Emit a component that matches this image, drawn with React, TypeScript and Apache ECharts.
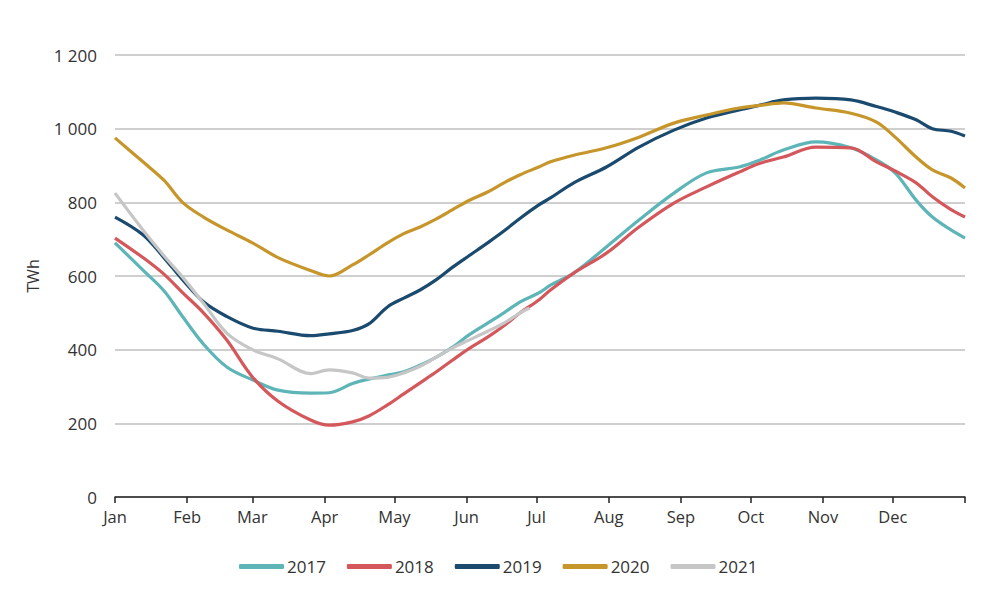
import React, { useEffect, useRef } from "react";
import * as echarts from "echarts";

const MONTHS = ["Jan", "Feb", "Mar", "Apr", "May", "Jun", "Jul", "Aug", "Sep", "Oct", "Nov", "Dec"];
const MONTH_START_DAYS = [0, 31, 59, 90, 120, 151, 181, 212, 243, 273, 304, 334];
const YEAR_END_DAY = 365;

const DAYS = [0, 12, 21, 29, 38, 48, 59, 70, 84, 92, 102, 109, 117, 124, 131, 138, 145, 152, 160, 167, 174, 182, 187, 197, 211, 225, 240, 254, 268, 277, 287, 301, 316, 327, 335, 344, 351, 359, 365];

const V2017 = [690, 616, 560, 490, 415, 353, 318, 290, 282, 283, 308, 320, 331, 340, 358, 380, 407, 440, 472, 500, 530, 554, 575, 608, 679, 752, 825, 880, 896, 915, 942, 964, 948, 915, 880, 806, 760, 725, 703];
const V2018 = [703, 650, 605, 555, 500, 426, 326, 260, 209, 195, 204, 220, 250, 280, 310, 340, 372, 403, 434, 465, 500, 535, 562, 608, 662, 733, 798, 842, 882, 906, 923, 950, 948, 910, 885, 853, 815, 780, 760];
const V2019 = [760, 712, 650, 590, 530, 490, 459, 450, 438, 443, 452, 470, 516, 540, 562, 590, 624, 655, 690, 722, 757, 793, 812, 853, 896, 950, 996, 1029, 1051, 1064, 1078, 1083, 1078, 1060, 1045, 1024, 1000, 993, 980];
const V2020 = [975, 910, 860, 800, 760, 725, 690, 650, 615, 600, 630, 657, 690, 715, 733, 755, 780, 805, 828, 853, 875, 896, 910, 928, 948, 977, 1015, 1037, 1056, 1063, 1070, 1056, 1042, 1018, 977, 923, 888, 866, 839];
const DAYS2021 = [0, 12, 21, 29, 38, 48, 59, 70, 84, 92, 102, 109, 117, 124, 131, 138, 145, 152, 160, 167, 174, 178];
const V2021 = [825, 725, 655, 597, 526, 445, 400, 375, 335, 345, 337, 323, 325, 337, 355, 380, 405, 426, 450, 472, 500, 513];

const SERIES = [
  { name: "2017", days: DAYS, values: V2017, color: "#5DB5B7" },
  { name: "2018", days: DAYS, values: V2018, color: "#D4575C" },
  { name: "2019", days: DAYS, values: V2019, color: "#1B4A6F" },
  { name: "2020", days: DAYS, values: V2020, color: "#C6962B" },
  { name: "2021", days: DAYS2021, values: V2021, color: "#C6C6C6" },
];

const FONT = "'Open Sans', 'Noto Sans', sans-serif";

export default function App() {
  const ref = useRef<HTMLDivElement>(null);
  useEffect(() => {
    if (!ref.current) return;
    const chart = echarts.init(ref.current, undefined, { renderer: "svg" });
    const option: any = {
      animation: false,
      backgroundColor: "#ffffff",
      grid: { left: 115, right: 43, top: 55, bottom: 100, containLabel: false },
      legend: {
        bottom: 17,
        left: 234,
        icon: "roundRect",
        itemWidth: 45,
        itemHeight: 5,
        itemGap: 21,
        textStyle: { fontFamily: FONT, fontSize: 17, color: "#333333", padding: [0, 0, 0, -2] },
        data: SERIES.map((s) => s.name),
      },
      xAxis: {
        type: "value",
        min: 0,
        max: YEAR_END_DAY,
        splitLine: { show: false },
        axisLine: { show: true, onZero: false, lineStyle: { color: "#222222", width: 1.5 } },
        axisTick: {
          show: true,
          length: 6,
          customValues: [...MONTH_START_DAYS, YEAR_END_DAY],
          lineStyle: { color: "#222222", width: 1.5 },
        },
        axisLabel: {
          customValues: MONTH_START_DAYS,
          formatter: (v: number) => MONTHS[MONTH_START_DAYS.indexOf(Math.round(v))] ?? "",
          fontFamily: FONT,
          fontSize: 16.5,
          color: "#333333",
          margin: 11,
        },
      },
      yAxis: {
        type: "value",
        min: 0,
        max: 1200,
        interval: 200,
        name: "TWh",
        nameLocation: "middle",
        nameGap: 74,
        nameRotate: 90,
        nameTextStyle: { fontFamily: FONT, fontSize: 16, color: "#333333" },
        axisLine: { show: false },
        axisTick: { show: false },
        splitLine: { show: true, lineStyle: { color: "#BFBFBF", width: 1.5 } },
        axisLabel: {
          formatter: (v: number) => String(v).replace(/\B(?=(\d{3})+(?!\d))/g, " "),
          fontFamily: FONT,
          fontSize: 17,
          color: "#333333",
          margin: 18,
        },
      },
      series: SERIES.map((s) => ({
        name: s.name,
        type: "line",
        showSymbol: false,
        symbol: "none",
        smooth: 0.35,
        color: s.color,
        lineStyle: { color: s.color, width: 3.2 },
        data: s.days.map((d, i) => [d, s.values[i]]),
      })),
    };
    chart.setOption(option);
    return () => chart.dispose();
  }, []);
  return (
    <div
      ref={ref}
      style={{ position: "fixed", left: 0, top: 0, width: 1008, height: 597, background: "#fff" }}
    />
  );
}
